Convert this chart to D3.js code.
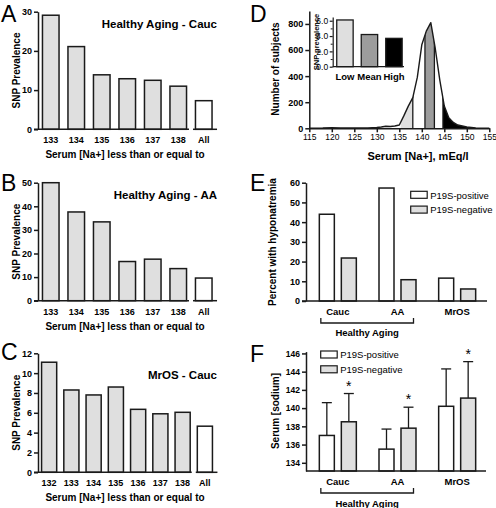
<!DOCTYPE html>
<html><head><meta charset="utf-8">
<script src="https://cdn.jsdelivr.net/npm/d3@7"></script>
<style>
body{margin:0;background:#fff}
svg{display:block;font-family:"Liberation Sans",Arial,Helvetica,sans-serif}
</style></head><body>
<svg id="c" width="496" height="508"></svg>
<script>
// ---------- data ----------
const aCats = ["133","134","135","136","137","138","All"];
const aVals = [29.1, 21.1, 13.9, 12.9, 12.5, 11.0, 7.3];
const bCats = ["133","134","135","136","137","138","All"];
const bVals = [50, 37.6, 33.4, 16.6, 17.6, 13.6, 9.6];
const cCats = ["132","133","134","135","136","137","138","All"];
const cVals = [11.1, 8.3, 7.8, 8.6, 6.35, 5.9, 6.05, 4.65];

const dNa    = [115,118,120,122,125,128,130,131,132,133,134,135,136,137,138,139,140,141,142,143,144,145,146,147,148,150,152,155];
const dCount = [0,  2,  5,  3,  2,  3,  6,  10, 16, 14, 18, 25, 95, 170,235,390,640,745,810,610,370,170,80, 45, 25, 10, 3,  0];
const dBands = [[135.3,138],[140.7,142.8],[144.7,155]];
const dBandNames = ["Low","Mean","High"];
const dInsetVals = [6.1, 4.2, 3.7];
const dXTicks = [115,120,125,130,135,140,145,150,155];
const dYTicks = [0,200,400,600,800];

const groups = ["Cauc","AA","MrOS"];
const series = ["P19S-positive","P19S-negative"];
const eVals = {"P19S-positive":[44.0, 57.3, 11.6], "P19S-negative":[21.8, 10.8, 6.1]};
const fMeans = {"P19S-positive":[137.0, 135.5, 140.2], "P19S-negative":[138.5, 137.8, 141.1]};
const fSD    = {"P19S-positive":[3.6, 2.2, 4.1], "P19S-negative":[3.1, 2.3, 4.0]};
const fStars = [false, false, false];
const fStarNeg = [true, true, true];

// ---------- style ----------
const LIGHT = "#dfdfdf", INK = "#1a1a1a";
const svg = d3.select("#c");

function styleAxis(g, fs, bold) {
  g.selectAll("path.domain").attr("stroke", INK).attr("stroke-width", 1.5);
  g.selectAll(".tick line").attr("stroke", INK).attr("stroke-width", 1.5);
  g.selectAll(".tick text").attr("fill", "#000").attr("font-size", fs)
    .attr("font-weight", bold ? "bold" : "normal").attr("font-family", null);
}
function letter(t, x, y) {
  svg.append("text").attr("x", x).attr("y", y).attr("font-size", 23).text(t);
}
function text(t, x, y, fs, opts = {}) {
  const e = svg.append("text").attr("x", x).attr("y", y).attr("font-size", fs)
    .attr("font-weight", opts.bold === false ? "normal" : "bold")
    .attr("text-anchor", opts.anchor || "middle").text(t);
  if (opts.rotate) e.attr("transform", `rotate(-90,${x},${y})`);
  return e;
}

// ---------- panels A-C ----------
function barPanel(cfg) {
  const x = d3.scaleBand().domain(cfg.cats).range(cfg.xRange)
    .paddingInner(cfg.pad).paddingOuter(cfg.pad / 2);
  const y = d3.scaleLinear().domain(cfg.yDomain).range(cfg.yRange);
  const axX = cfg.xRange[0];
  const g = svg.append("g");
  g.selectAll("rect").data(cfg.vals).join("rect")
    .attr("x", (d, i) => x(cfg.cats[i]))
    .attr("width", x.bandwidth())
    .attr("y", d => y(d))
    .attr("height", d => y(0) - y(d))
    .attr("fill", (d, i) => cfg.cats[i] === "All" ? "#fff" : LIGHT)
    .attr("stroke", INK).attr("stroke-width", 1.5);
  const ya = svg.append("g").attr("transform", `translate(${axX},0)`)
    .call(d3.axisLeft(y).tickValues(cfg.yTicks).tickSize(4).tickSizeOuter(0).tickPadding(2));
  styleAxis(ya, 9, true);
  // x axis with break before "All"
  const n = cfg.cats.length;
  const lastEnd = x(cfg.cats[n - 2]) + x.bandwidth();
  const allStart = x("All");
  const mid = (lastEnd + allStart) / 2;
  const y0 = y(0);
  svg.append("line").attr("x1", axX - 4).attr("x2", mid - 2).attr("y1", y0).attr("y2", y0)
    .attr("stroke", INK).attr("stroke-width", 1.5);
  svg.append("line").attr("x1", mid + 2).attr("x2", allStart + x.bandwidth() + 5).attr("y1", y0).attr("y2", y0)
    .attr("stroke", INK).attr("stroke-width", 1.5);
  cfg.cats.forEach(c => text(c, x(c) + x.bandwidth() / 2, y0 + 14, 9));
  text("Serum [Na+] less than or equal to", 125, y0 + 29, 10);
  text("SNP Prevalence", 20, (cfg.yRange[0] + cfg.yRange[1]) / 2, 10, {rotate: true});
  text(cfg.title, 217, cfg.titleY, 11.5, {anchor: "end"});
  letter(cfg.letter, 1, cfg.letterY);
}

barPanel({cats: aCats, vals: aVals, yDomain: [0, 30], yRange: [129.3, 11.7], yTicks: [0,10,20,30],
  xRange: [38, 216.5], pad: 0.35, title: "Healthy Aging - Cauc", titleY: 27.5, letter: "A", letterY: 22});
barPanel({cats: bCats, vals: bVals, yDomain: [0, 50], yRange: [300.7, 182.7], yTicks: [0,10,20,30,40,50],
  xRange: [38, 216.5], pad: 0.35, title: "Healthy Aging - AA", titleY: 199, letter: "B", letterY: 191});
barPanel({cats: cCats, vals: cVals, yDomain: [0, 12], yRange: [472.3, 353.3], yTicks: [0,2,4,6,8,10,12],
  xRange: [38, 216], pad: 0.32, title: "MrOS - Cauc", titleY: 379, letter: "C", letterY: 360});

// ---------- panel D ----------
(function () {
  const x = d3.scaleLinear().domain([115, 155]).range([309.3, 489.3]);
  const y = d3.scaleLinear().domain([0, 900]).range([128.3, 10.9]);
  const pts = dNa.map((v, i) => [v, dCount[i]]);
  const area = d3.area().x(d => x(d[0])).y0(y(0)).y1(d => y(d[1]));
  const line = d3.line().x(d => x(d[0])).y(d => y(d[1]));
  const defs = svg.append("defs");
  defs.append("clipPath").attr("id", "under").append("path").attr("d", area(pts));
  const fills = [LIGHT, "#9c9c9c", "#000"];
  dBands.forEach((b, i) => {
    defs.append("clipPath").attr("id", "band" + i).append("rect")
      .attr("x", x(b[0])).attr("width", x(b[1]) - x(b[0])).attr("y", 0).attr("height", 140);
    svg.append("path").attr("d", area(pts)).attr("fill", fills[i]).attr("clip-path", `url(#band${i})`);
  });
  const edges = [dBands[0][1], dBands[1][0], dBands[1][1], dBands[2][0]];
  svg.append("g").attr("clip-path", "url(#under)").selectAll("line").data(edges).join("line")
    .attr("x1", d => x(d)).attr("x2", d => x(d)).attr("y1", y(0)).attr("y2", y(900))
    .attr("stroke", INK).attr("stroke-width", 1.3);
  svg.append("path").attr("d", line(pts)).attr("fill", "none").attr("stroke", INK).attr("stroke-width", 1.4)
    .attr("stroke-linejoin", "round");
  const xa = svg.append("g").attr("transform", `translate(0,${y(0)})`)
    .call(d3.axisBottom(x).tickValues(dXTicks).tickSize(4).tickSizeOuter(0).tickPadding(2));
  styleAxis(xa, 8.5, false);
  const ya = svg.append("g").attr("transform", `translate(${x(115)},0)`)
    .call(d3.axisLeft(y).tickValues(dYTicks).tickSize(4).tickSizeOuter(0).tickPadding(2));
  styleAxis(ya, 9, true);
  text("Serum [Na+], mEq/l", 418, 160, 11);
  text("Number of subjects", 279, 69, 10, {rotate: true});
  letter("D", 250, 22);

  // inset
  const xi = d3.scaleBand().domain(dBandNames).range([332.7, 406.2]).paddingInner(0.33).paddingOuter(0.165);
  const yi = d3.scaleLinear().domain([0, 6.5]).range([66.7, 16.9]);
  const insetFills = [LIGHT, "#9c9c9c", "#000"];
  svg.append("g").selectAll("rect").data(dInsetVals).join("rect")
    .attr("x", (d, i) => xi(dBandNames[i])).attr("width", xi.bandwidth())
    .attr("y", d => yi(d)).attr("height", d => yi(0) - yi(d))
    .attr("fill", (d, i) => insetFills[i]).attr("stroke", INK).attr("stroke-width", 1.3);
  const yia = svg.append("g").attr("transform", `translate(332.7,0)`)
    .call(d3.axisLeft(yi).tickValues([0,2,4,6]).tickSize(3).tickSizeOuter(0).tickPadding(1.5));
  styleAxis(yia, 8.5, false);
  yia.selectAll("path.domain").attr("stroke-width", 1.2);
  yia.selectAll(".tick line").attr("stroke-width", 1.2);
  svg.append("g").attr("transform", `translate(332.7,0)`)
    .call(d3.axisLeft(yi).tickValues([1,3,5]).tickSize(2).tickFormat(""))
    .call(g => { g.select("path.domain").remove(); g.selectAll("line").attr("stroke", INK).attr("stroke-width", 1); });
  svg.append("line").attr("x1", 332.7).attr("x2", 404).attr("y1", yi(0)).attr("y2", yi(0))
    .attr("stroke", INK).attr("stroke-width", 1.3);
  dBandNames.forEach(n => text(n, xi(n) + xi.bandwidth() / 2, 79.5, 9.5));
  text("SNP prevalence", 319, 42, 7.5, {rotate: true});
})();

// ---------- panels E & F ----------
function groupScales() {
  const xg = d3.scaleBand().domain(groups).range([308, 487]);
  const xs = d3.scaleBand().domain(series).range([-18.5, 18.5]).paddingInner(0.318);
  return [xg, xs];
}
function bracket(xg, yLine, yText) {
  const l = xg("Cauc") + xg.bandwidth() / 2 - 17, r = xg("AA") + xg.bandwidth() / 2 + 16;
  svg.append("path").attr("d", `M${l},${yLine - 5}V${yLine}H${r}V${yLine - 5}`)
    .attr("fill", "none").attr("stroke", INK).attr("stroke-width", 1.3);
  text("Healthy Aging", (l + r) / 2, yText, 9.5);
}
function legend(x0, y0) {
  series.forEach((s, i) => {
    svg.append("rect").attr("x", x0).attr("y", y0 + i * 14.8).attr("width", 16.5).attr("height", 7)
      .attr("fill", i === 0 ? "#fff" : LIGHT).attr("stroke", INK).attr("stroke-width", 1.2);
    text(s, x0 + 19.5, y0 + i * 14.8 + 7.2, 9.5, {anchor: "start", bold: false});
  });
}

(function () {
  const [xg, xs] = groupScales();
  const y = d3.scaleLinear().domain([0, 60]).range([301, 182.7]);
  series.forEach((s, si) => {
    svg.append("g").selectAll("rect").data(eVals[s]).join("rect")
      .attr("x", (d, i) => xg(groups[i]) + xg.bandwidth() / 2 + xs(s)).attr("width", xs.bandwidth())
      .attr("y", d => y(d)).attr("height", d => y(0) - y(d))
      .attr("fill", si === 0 ? "#fff" : LIGHT).attr("stroke", INK).attr("stroke-width", 1.5);
  });
  const ya = svg.append("g").attr("transform", `translate(306,0)`)
    .call(d3.axisLeft(y).tickValues([0,10,20,30,40,50,60]).tickSize(4).tickSizeOuter(0).tickPadding(2));
  styleAxis(ya, 9, true);
  svg.append("line").attr("x1", 302).attr("x2", 487).attr("y1", y(0)).attr("y2", y(0))
    .attr("stroke", INK).attr("stroke-width", 1.5);
  groups.forEach(gn => text(gn, xg(gn) + xg.bandwidth() / 2, 315, 9.5));
  bracket(xg, 323, 336);
  text("Percent with hyponatremia", 276, 242, 10, {rotate: true});
  legend(410.7, 191.3);
  letter("E", 250, 191);
})();

(function () {
  const [xg, xs] = groupScales();
  const y = d3.scaleLinear().domain([133.1, 146.2]).range([471, 351.6]);
  series.forEach((s, si) => {
    const g = svg.append("g");
    fMeans[s].forEach((m, i) => {
      const bx = xg(groups[i]) + xg.bandwidth() / 2 + xs(s);
      const cx = bx + xs.bandwidth() / 2;
      const top = y(m + fSD[s][i]);
      g.append("line").attr("x1", cx).attr("x2", cx).attr("y1", y(m)).attr("y2", top)
        .attr("stroke", INK).attr("stroke-width", 1.3);
      g.append("line").attr("x1", cx - 5).attr("x2", cx + 5).attr("y1", top).attr("y2", top)
        .attr("stroke", INK).attr("stroke-width", 1.3);
      g.append("rect").attr("x", bx).attr("width", xs.bandwidth())
        .attr("y", y(m)).attr("height", y.range()[0] - y(m))
        .attr("fill", si === 0 ? "#fff" : LIGHT).attr("stroke", INK).attr("stroke-width", 1.5);
      const star = si === 0 ? fStars[i] : fStarNeg[i];
      if (star) text("*", cx, top - 3, 14, {bold: false});
    });
  });
  const ya = svg.append("g").attr("transform", `translate(306,0)`)
    .call(d3.axisLeft(y).tickValues([134,136,138,140,142,144,146]).tickSize(4).tickSizeOuter(0).tickPadding(2));
  styleAxis(ya, 8.5, true);
  svg.append("line").attr("x1", 306).attr("x2", 486).attr("y1", y.range()[0]).attr("y2", y.range()[0])
    .attr("stroke", INK).attr("stroke-width", 1.5);
  groups.forEach(gn => text(gn, xg(gn) + xg.bandwidth() / 2, 485, 9.5));
  bracket(xg, 493, 506.5);
  text("Serum [sodium]", 279, 411, 10, {rotate: true});
  legend(320.7, 351);
  letter("F", 250, 362);
})();
</script>
</body></html>
